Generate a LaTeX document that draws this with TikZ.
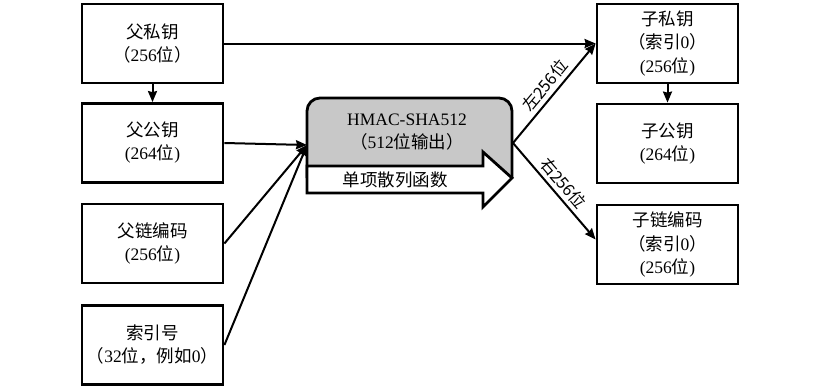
\documentclass[tikz,border=0pt]{standalone}
\usepackage{fontspec}
\setmainfont{Liberation Serif}
\newfontfamily\cjkfont{Noto Sans CJK SC}
\newcommand{\zh}[1]{{\cjkfont #1}}
\usetikzlibrary{arrows.meta}
\definecolor{hashgray}{RGB}{200,200,200}
\begin{document}
\begin{tikzpicture}[x=1pt,y=-1pt,
  box/.style={draw,line width=2.8pt,minimum width=141pt,minimum height=79pt,
    align=center,inner sep=0pt,font=\fontsize{17.5}{23}\selectfont},
  tall/.style={font=\fontsize{17.5}{23.5}\selectfont},
  link/.style={line width=2pt,-{Stealth[length=11pt,width=9pt,inset=1pt]}},
  tag/.style={font=\cjkfont\fontsize{16.5}{20}\selectfont,sloped,above,inner sep=3.5pt},
  outline/.style={line width=2.8pt}]
\useasboundingbox (0,0) rectangle (824,391);

% parent inputs
\node[box] (pk)    at (152.5,43.5) {\zh{父私钥}\\\zh{（}256\zh{位）}};
\node[box] (pub)   at (152.5,143)  {\zh{父公钥}\\(264\zh{位})};
\node[box] (chain) at (152.5,243.5){\zh{父链编码}\\(256\zh{位})};
\node[box] (idx)   at (152.5,345)  {\zh{索引号}\\\zh{（}32\zh{位，例如}0\zh{）}};

% child outputs
\node[box,tall] (cpk) at (667.5,43.5)
  {\zh{子私钥}\\\zh{（索引}0\zh{）}\\(256\zh{位})};
\node[box] (cpub) at (667.5,143.5) {\zh{子公钥}\\(264\zh{位})};
\node[box,tall] (cch) at (667.5,244.5)
  {\zh{子链编码}\\\zh{（索引}0\zh{）}\\(256\zh{位})};

% hash function block with one-way arrow
\draw[outline,fill=hashgray,rounded corners=13pt]
  (307,178) -- (307,98) -- (512,98) -- (512,178);
\draw[outline,fill=white,line join=miter]
  (307,166) -- (483,166) -- (483,152) -- (512,178) -- (483,207) -- (483,193)
  -- (307,193) -- cycle;
\node[align=center,font=\fontsize{17.5}{23}\selectfont] (hash) at (407,132)
  {HMAC-SHA512\\\zh{（}512\zh{位输出）}};
\node[font=\fontsize{17.5}{20}\selectfont] (oneway) at (395,180) {\zh{单项散列函数}};
\coordinate (hin) at (307,145);
\coordinate (hout) at (513,143);

% connectors
\draw[link] (pk.east) -- (cpk.west);
\draw[link] (pk.south) -- (pub.north);
\draw[link] (cpk.south) -- (cpub.north);
\draw[link] (pub.east) -- (hin);
\draw[link] (chain.east) -- (hin);
\draw[link] (idx.east) -- (hin);
\draw[link] (hout) -- node[tag] {左256位} (cpk.west);
\draw[link] (hout) -- node[tag] {右256位} ([yshift=5pt]cch.west);
\end{tikzpicture}
\end{document}
